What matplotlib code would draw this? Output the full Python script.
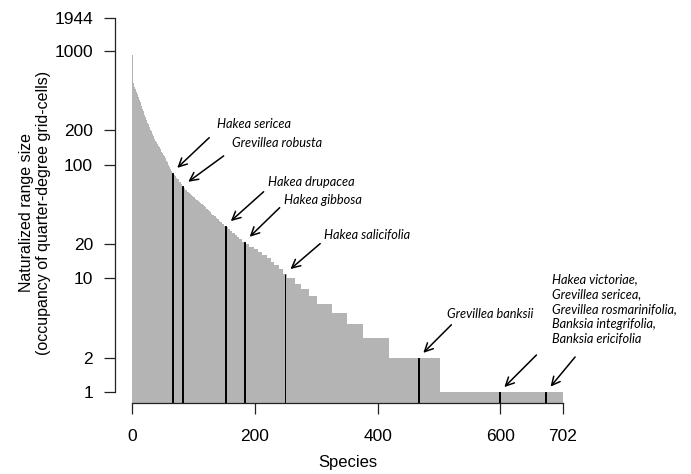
"""Rank plot of naturalized range size for 702 species (log y)"""

import matplotlib
matplotlib.use('Agg')
import matplotlib.pyplot as plt
import numpy as np

# range size of the 83 widest-ranging species
top_values = [920, 540, 520, 500, 482, 466, 450, 436, 422, 408, 395,
              381, 367, 354, 341, 329, 317, 306, 295, 284, 274, 264,
              256, 249, 241, 234, 227, 221, 214, 208, 202, 196, 190, 185,
              179, 174, 169, 164, 161, 157, 154, 151, 148, 145, 142, 139,
              136, 133, 130, 127, 124, 122, 119, 117, 114, 111, 108, 105,
              103, 100, 97, 95, 92, 90, 87, 85, 84, 83, 82, 81, 79, 78, 77,
              76, 75, 74, 72, 71, 70, 69, 68, 66, 65]

# remaining species as (range size, number of species) steps
run_levels = [64, 63, 62, 61, 60, 59, 58, 57, 56, 55, 54, 53, 52, 51, 50,
              49, 48, 47, 46, 45, 44, 43, 42, 41, 40, 39, 38, 37, 36, 35,
              34, 33, 32, 31, 30, 29, 28, 27, 26, 25, 24, 23, 22, 21, 20,
              19, 18, 17, 16, 15, 14, 13, 12, 11, 10, 9, 8, 7, 6, 5, 4, 3,
              2, 1]
run_counts = [1, 1, 1, 1, 2, 1, 2, 1, 2, 1, 2, 2, 2, 1, 2, 2, 2, 2, 2, 2, 2,
              2, 2, 2, 2, 2, 2, 2, 2, 3, 2, 3, 3, 3, 3, 3,
              3, 3, 4, 4, 4, 4, 4, 5,
              7, 7, 7, 7, 8,
              6, 6, 7, 7, 6,
              14, 10, 12, 13, 25, 24, 27, 41, 84, 200]

# highlighted species (rank index) and their labels
highlight_idx = [65, 82, 152, 183, 249, 466, 597, 598, 599, 673, 674]
label_names = ["Hakea sericea", "Grevillea robusta", "Hakea drupacea",
               "Hakea gibbosa", "Hakea salicifolia", "Grevillea banksii"]
label_idx = [65, 82, 152, 183, 249, 466]
group_names = ["Hakea victoriae,", "Grevillea sericea,",
               "Grevillea rosmarinifolia,", "Banksia integrifolia,",
               "Banksia ericifolia"]
group_idx = [598, 674]

y_ticks = [1, 2, 10, 20, 100, 200, 1000, 1944]
x_ticks = [0, 200, 400, 600, 702]

values = np.concatenate([top_values, np.repeat(run_levels, run_counts)])
n = len(values)
ranks = np.arange(n)
base = 0.5  # bars start below the visible y range

# layout: (arrow tail dx, dy, text dx, dy) in pixels from the bar top
label_off = [(37, 35, 45, 49), (41, 30, 49, 43), (38, 34, 42, 44),
             (35, 34, 39, 42), (35, 30, 39, 39), (33, 33, 29, 44)]
group_off = [(37, 37), (29, 35)]

fig = plt.figure(figsize=(6.91, 4.74), dpi=100, facecolor='w')
ax = fig.add_axes([0.1661, 0.1498, 0.6736, 0.820])

ax.bar(ranks, values - base, width=1, align='edge', bottom=base,
       color='#b4b4b4', linewidth=0)
hl = np.array(highlight_idx)
ax.bar(hl, values[hl] - base, width=1, align='edge', bottom=base,
       color='black', edgecolor='black', linewidth=0.7)

ax.set_yscale('log')
ax.set_xlim(-28.08, 730.08)
ax.set_ylim(0.80, 2100)

for s in ['top', 'right']:
    ax.spines[s].set_visible(False)
ax.spines['left'].set_bounds(1, 1944)
ax.spines['bottom'].set_bounds(0, 702)
for s in ['left', 'bottom']:
    ax.spines[s].set_linewidth(0.9)
    ax.spines[s].set_color('#222222')

ax.set_yticks(y_ticks)
ax.set_yticklabels([str(v) for v in y_ticks])
ax.yaxis.set_minor_locator(matplotlib.ticker.NullLocator())
ax.set_xticks(x_ticks)
ax.set_xticklabels([str(v) for v in x_ticks])

axis_font = 'Liberation Sans'
ax.tick_params(axis='both', direction='out', length=7.6, width=0.9,
               color='#222222', labelsize=12.5)
ax.tick_params(axis='y', pad=8)
ax.tick_params(axis='x', pad=11)
for lab in ax.get_xticklabels() + ax.get_yticklabels():
    lab.set_fontfamily(axis_font)

ax.set_xlabel("Species", fontsize=12, family=axis_font)
ax.xaxis.set_label_coords(0.5, -0.154)
ax.xaxis.label.set_va('center')
ax.set_ylabel("Naturalized range size\n(occupancy of quarter-degree grid-cells)",
              fontsize=11.5, family=axis_font, linespacing=1.15)
ax.yaxis.set_label_coords(-0.171, 0.489)
ax.yaxis.label.set_va('center')

note_font = dict(family=['Lato', 'DejaVu Sans'], style='italic', fontsize=9.2)
arrow = dict(arrowstyle='->,head_length=0.6,head_width=0.3', lw=1.1,
             color='black', shrinkA=0, shrinkB=5)

for name, i, (ax_dx, ax_dy, tx, ty) in zip(label_names, label_idx, label_off):
    top = (i + 0.5, values[i])
    ax.annotate('', xy=top, xytext=(ax_dx, ax_dy), textcoords='offset pixels',
                arrowprops=arrow)
    ax.annotate(name, xy=top, xytext=(tx, ty), textcoords='offset pixels',
                ha='left', va='center', **note_font)

for i, (ax_dx, ax_dy) in zip(group_idx, group_off):
    ax.annotate('', xy=(i + 0.5, values[i]), xytext=(ax_dx, ax_dy),
                textcoords='offset pixels', arrowprops=arrow)
ax.annotate("\n".join(group_names), xy=(group_idx[1] + 0.5, values[group_idx[1]]),
            xytext=(6, 83), textcoords='offset pixels', ha='left', va='center',
            linespacing=1.3, **note_font)

fig.savefig('out.png', dpi=100, facecolor=fig.get_facecolor())
